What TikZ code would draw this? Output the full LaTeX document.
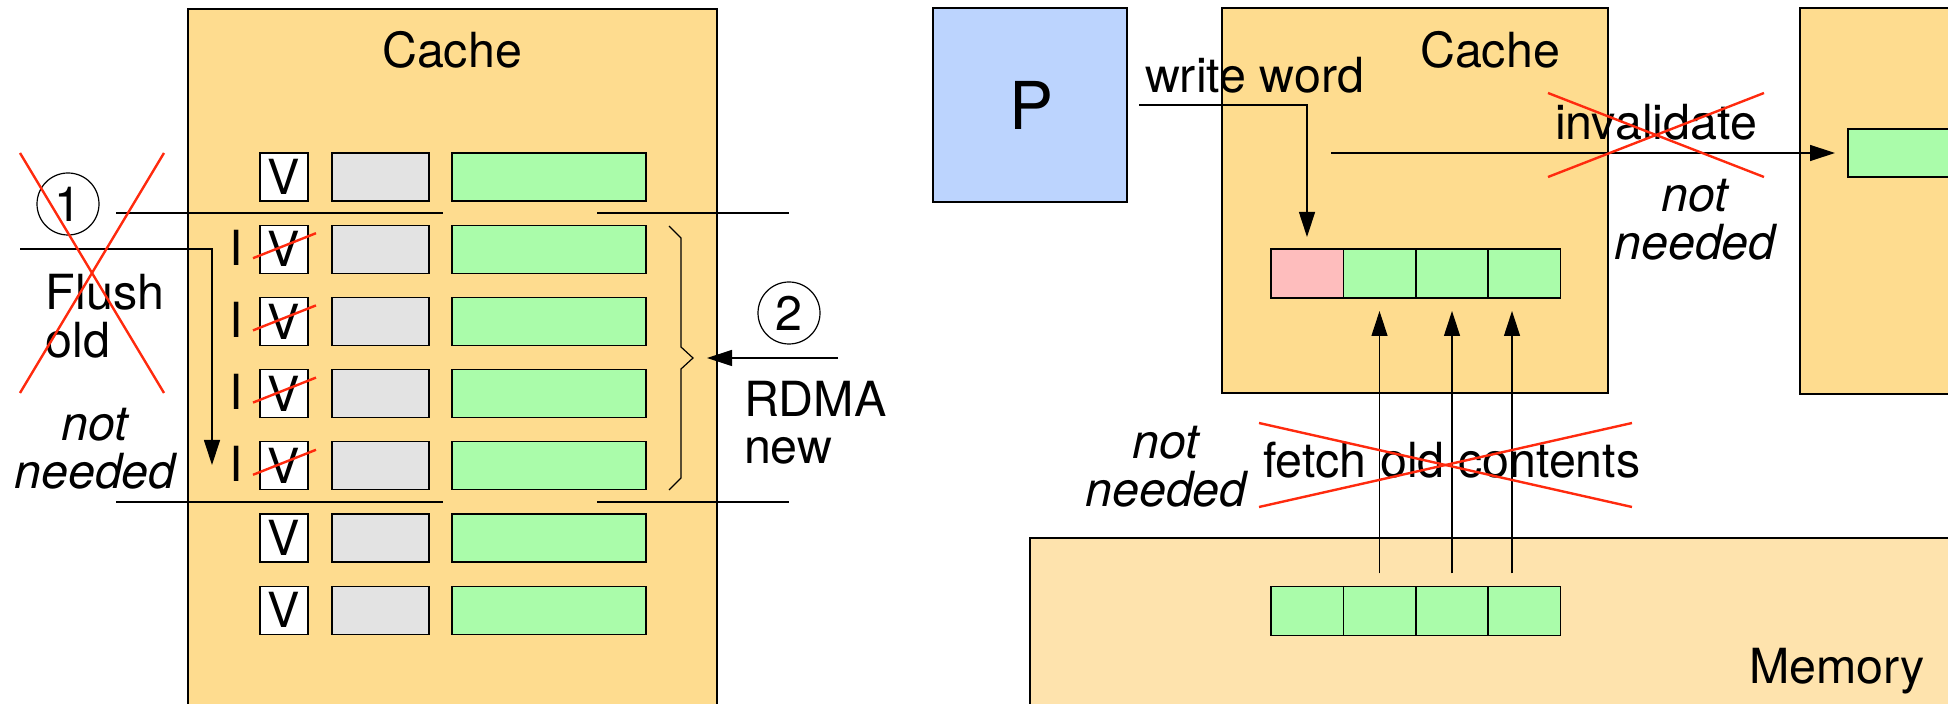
\documentclass[tikz,border=0pt]{standalone}
\usepackage{fontspec}
\setmainfont{TeX Gyre Heros}
\usetikzlibrary{arrows.meta}
\definecolor{cachefill}{HTML}{FEDC8F}
\definecolor{memfill}{HTML}{FEE3AD}
\definecolor{linefill}{HTML}{AAFCAA}
\definecolor{tagfill}{HTML}{E3E3E3}
\definecolor{cpufill}{HTML}{BCD4FE}
\definecolor{dirtyfill}{HTML}{FEBDBD}
\definecolor{strike}{HTML}{FF2A0E}
\begin{document}
\begin{tikzpicture}[x=0.5pt,y=-0.5pt,
  txt/.style={inner sep=0pt, outer sep=0pt, font=\fontsize{24.2}{28}\selectfont},
  itxt/.style={txt, font=\fontsize{24.2}{28}\selectfont\itshape},
  bigbox/.style={draw, line width=0.9pt, inner sep=0pt, outer sep=0pt},
  cellbox/.style={draw, line width=0.65pt, inner sep=0pt, outer sep=0pt},
  vbox/.style={cellbox, fill=white, minimum width=24pt, minimum height=24pt,
    font=\fontsize{24.2}{28}\selectfont},
  tagbox/.style={cellbox, fill=tagfill, minimum width=48.5pt, minimum height=24pt},
  databox/.style={cellbox, fill=linefill, minimum width=97pt, minimum height=24pt},
  wordbox/.style={cellbox, fill=linefill, minimum width=36.15pt, minimum height=24.5pt},
  stepnum/.style={circle, draw, line width=0.6pt, minimum size=31pt, inner sep=0pt,
    font=\fontsize{24.2}{28}\selectfont},
  thin/.style={line width=0.6pt},
  arr/.style={thin, -{Triangle[length=12.5pt,width=8pt]}},
  cross/.style={draw=strike, line width=1.2pt}
]
\useasboundingbox (0,0) rectangle (1948,704);
\clip (0,0) rectangle (1948,704);

% ---------- left: cache with valid bits ----------
\node[bigbox, fill=cachefill, minimum width=264.5pt, minimum height=357.5pt]
  (lcache) at (452.5,366.5) {};
\node[txt, anchor=base] (lcachelbl) at (452,68) {Cache};

\foreach \r in {0,...,6} {
  \pgfmathsetmacro{\cy}{177+72.2*\r}
  \node[vbox] (v\r) at (284,\cy) {V};
  \node[tagbox] (t\r) at (380.5,\cy) {};
  \node[databox] (d\r) at (549,\cy) {};
}
% invalidated entries
\foreach \r in {1,...,4} {
  \pgfmathsetmacro{\cy}{177+72.2*\r}
  \node[txt, anchor=base] (i\r) at (236,\cy+16) {I};
  \draw[cross] ([shift={(-15.5pt,-4.5pt)}]v\r.center) -- ([shift={(16pt,8pt)}]v\r.center);
}

% range markers
\draw[thin] (116,213) -- (443,213);
\draw[thin] (597,213) -- (789,213);
\draw[thin] (116,502) -- (443,502);
\draw[thin] (597,502) -- (789,502);

% step 1: flush (crossed out)
\node[stepnum] (s1) at (68,204) {1};
\coordinate (flushstart) at (20,249);
\coordinate (flushend) at (212,465);
\draw[arr] (flushstart) -| (flushend);
\node[txt, anchor=base west] (flush) at (46,310) {Flush};
\node[txt, anchor=base west] (old) at (46,358) {old};
\draw[cross] (20,153) -- (164,393);
\draw[cross] (164,153) -- (20,393);
\node[itxt, anchor=base] (nn1a) at (95,441) {not};
\node[itxt, anchor=base] (nn1b) at (95,489) {needed};

% step 2: RDMA new contents
\draw[thin] (669,226) -- (681,238) -- (681,347) -- (693,358) -- (681,369)
  -- (681,478) -- (669,490);
\node[stepnum] (s2) at (789,313) {2};
\coordinate (rdmastart) at (838,358);
\coordinate (rdmaend) at (707,358);
\draw[arr] (rdmastart) -- (rdmaend);
\node[txt, anchor=base west] (rdma) at (744,417) {RDMA};
\node[txt, anchor=base west] (new) at (744,464) {new};

% ---------- right: write without fetch ----------
\node[bigbox, fill=cachefill, minimum width=193pt, minimum height=192.5pt]
  (mcache) at (1415,200.5) {};
\node[bigbox, fill=cachefill, minimum width=85pt, minimum height=193pt]
  (rcache) at (1885,201) {};
\node[bigbox, fill=memfill, minimum width=470pt, minimum height=93pt]
  (mem) at (1500,631) {};
\node[bigbox, fill=cpufill, minimum width=97pt, minimum height=97pt] (cpu) at (1030,105) {};
\node[inner sep=0pt, anchor=base, font=\fontsize{33}{36}\selectfont] (plbl) at (1031,130) {P};

\node[txt, anchor=base] (mcachelbl) at (1490,68) {Cache};
\node[txt, anchor=base west] (memlbl) at (1749,683) {Memory};

% cache line words
\node[wordbox, fill=dirtyfill] (c1) at (1307,273.5) {};
\node[wordbox] (c2) at (1379.5,273.5) {};
\node[wordbox] (c3) at (1452,273.5) {};
\node[wordbox] (c4) at (1524,273.5) {};
% memory line words
\node[wordbox] (m1) at (1307,611) {};
\node[wordbox] (m2) at (1379.5,611) {};
\node[wordbox] (m3) at (1452,611) {};
\node[wordbox] (m4) at (1524,611) {};
% remote copy of the line
\node[cellbox, fill=linefill, minimum width=61pt, minimum height=24pt] (rg) at (1909,153) {};

% write word
\node[txt, anchor=base west] (wwlbl) at (1145,93) {write word};
\coordinate (wwstart) at (1139,105);
\draw[arr] (wwstart) -| ([yshift=6pt]c1.north);

% invalidate (crossed out)
\coordinate (invstart) at (1331,153);
\draw[arr] (invstart) -- ([xshift=-6.5pt]rg.west);
\node[txt, anchor=base west] (invlbl) at (1555,140) {invalidate};
\draw[cross] (1548,93) -- (1764,177);
\draw[cross] (1548,177) -- (1764,93);
\node[itxt, anchor=base] (nn2a) at (1695,212) {not};
\node[itxt, anchor=base] (nn2b) at (1695,260) {needed};

% fetch old contents (crossed out)
\draw[arr, shorten <=6.5pt, shorten >=6.5pt] (m2.north) -- (c2.south);
\draw[arr, shorten <=6.5pt, shorten >=6.5pt] (m3.north) -- (c3.south);
\draw[arr, shorten <=6.5pt, shorten >=6.5pt] ([xshift=-6pt]m4.north) -- ([xshift=-6pt]c4.south);
\node[txt, anchor=base west] (fetchlbl) at (1263,478) {fetch old contents};
\draw[cross] (1259,423) -- (1632,507);
\draw[cross] (1259,507) -- (1632,423);
\node[itxt, anchor=base] (nn3a) at (1166,459) {not};
\node[itxt, anchor=base] (nn3b) at (1166,507) {needed};
\end{tikzpicture}
\end{document}
